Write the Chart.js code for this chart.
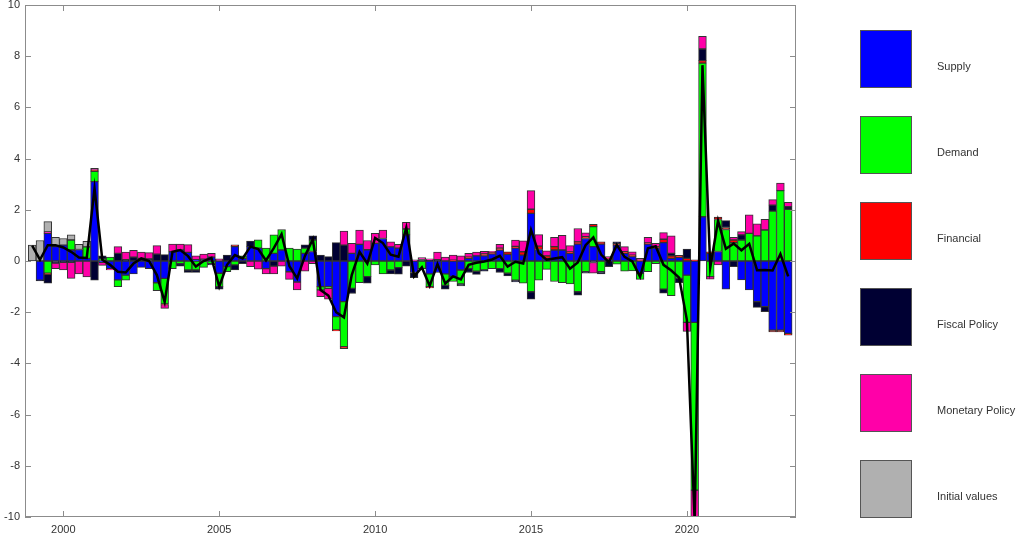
<!DOCTYPE html>
<html>
<head>
<meta charset="utf-8">
<script src="https://cdn.jsdelivr.net/npm/chart.js@4.4.1/dist/chart.umd.min.js"></script>
<style>
  body { margin: 0; background: #fff; }
  #wrap { width: 1017px; height: 537px; }
</style>
</head>
<body>
<div id="wrap"><canvas id="hd" width="1017" height="537"></canvas></div>
<script>
// quarters 1999Q1 .. 2023Q2
var startYear = 1999;
var nQuarters = 98;

// contributions
var supply = [0, -0.75, 1.08, 0.56, 0.62, 0.43, 0.45, 0.1, 3.1, -0.05,
  -0.3, -0.74, -0.55, -0.5, -0.25, -0.3, -0.85, -0.68, 0.36, 0.43,
  0.34, 0.05, 0, 0.15, -0.48, -0.22, 0.56, 0.1, 0.56, 0.5,
  -0.3, 0.3, 0.43, -0.42, -0.82, 0.3, 0.37, -1.0, -1.0, -2.17,
  -1.59, 0.3, 0.65, 0.44, 0.69, 0.88, 0.55, 0.5, 1.02, -0.45,
  0, -0.5, -0.45, -0.5, -0.6, -0.35, 0.1, 0.2, 0.2, 0.28,
  0.43, 0.26, 0.5, 0.23, 1.86, 0.45, 0.1, 0.43, 0.43, 0.3,
  0.66, 0.88, 0.56, 0.66, 0.05, 0.62, 0.3, 0.17, -0.48, 0.66,
  0.5, 0.72, 0.1, 0.14, -0.55, -2.4, 1.73, 0.3, 0.37, -1.1,
  0, -0.74, -1.13, -1.59, -1.78, -2.7, -2.7, -2.83];

var demand = [0, 0, -0.48, 0, 0, 0.39, 0, 0.45, 0.4, 0.08,
  0.15, -0.26, -0.2, 0, 0, 0, -0.31, -1.0, -0.3, -0.1,
  -0.35, -0.35, -0.25, -0.1, -0.52, -0.2, -0.15, 0.1, 0, 0.33,
  0.5, 0.72, 0.8, 0.5, 0.47, 0.2, 0.45, -0.13, -0.07, -0.52,
  -1.76, -1.07, -0.85, -0.61, -0.15, -0.5, -0.35, -0.26, 0.23, 0,
  -0.3, -0.5, 0, -0.45, -0.2, -0.55, -0.3, -0.4, -0.35, -0.3,
  -0.3, -0.48, -0.75, -0.87, -1.2, -0.75, -0.33, -0.8, -0.85, -0.9,
  -1.2, -0.42, 0.78, -0.42, 0, -0.12, -0.4, -0.39, -0.24, -0.42,
  -0.1, -1.1, -1.35, -0.68, -1.85, -6.55, 6.0, -0.61, 1.25, 1.23,
  0.72, 0.82, 1.08, 0.98, 1.21, 1.95, 2.75, 2.02];

var financial = [0, 0, -0.04, 0, 0, 0, 0, 0, 0.05, 0,
  0, 0, 0, 0, 0, 0, 0, -0.02, 0, 0,
  0, 0, 0, 0, 0, 0, 0.07, 0, 0, 0,
  0, 0, 0, 0, 0, 0, 0, 0, 0, -0.04,
  -0.07, 0, 0, 0, 0, 0, 0, 0, 0, 0,
  0, -0.05, 0, 0, 0.03, 0, 0.05, 0, 0.08, 0.05,
  0.07, 0.1, 0.07, 0.13, 0.16, 0.13, 0.1, 0.13, 0, 0.05,
  0.09, 0.07, 0.09, 0.09, 0.06, 0.07, 0.06, 0.06, 0.04, 0.05,
  0.06, 0.13, 0.1, 0.08, 0.1, 0.05, 0.1, 0.06, 0.1, 0.08,
  0.1, 0, 0, 0, 0, -0.07, -0.07, -0.07];

var fiscal = [0, -0.03, -0.35, -0.08, -0.05, -0.05, 0, 0, -0.75, 0.12,
  0, 0.3, 0.05, 0.15, 0.1, 0.08, 0.27, 0.25, 0, -0.1,
  -0.1, -0.1, 0.07, -0.05, -0.1, 0.23, -0.2, -0.1, 0.22, 0,
  0, -0.2, 0, 0, 0, 0.13, 0.16, 0.23, 0.17, 0.72,
  0.62, -0.2, 0, -0.26, 0, 0, -0.15, -0.25, -0.2, -0.2,
  0.06, 0.03, 0.05, -0.15, 0, -0.07, -0.15, -0.12, -0.05, 0,
  -0.15, -0.1, -0.07, 0, -0.29, 0, 0, 0, 0, 0,
  -0.13, -0.06, -0.06, -0.08, -0.22, 0.06, 0, 0, 0, 0,
  0, -0.16, 0.1, -0.17, 0.37, 0, 0.45, 0, 0, 0.27,
  -0.22, 0.2, 0, -0.22, -0.2, 0.23, 0, 0.1];

var monetary = [0, 0, 0.06, -0.22, -0.3, -0.63, -0.5, -0.62, 0.07, -0.12,
  -0.05, 0.26, 0.3, 0.27, 0.25, 0.25, 0.33, -0.15, 0.3, 0.23,
  0.3, 0.15, 0.2, 0.15, 0.08, 0, 0, 0, -0.22, -0.32,
  -0.2, -0.3, -0.2, -0.3, -0.31, -0.4, -0.1, -0.26, -0.42, 0,
  0.55, 0.39, 0.56, 0.36, 0.39, 0.33, 0.2, 0.15, 0.26, 0.05,
  0.07, 0.05, 0.3, 0.15, 0.2, 0.2, 0.15, 0.15, 0.1, 0.05,
  0.15, 0, 0.25, 0.43, 0.73, 0.45, 0.2, 0.36, 0.57, 0.25,
  0.52, 0.15, -0.42, 0, 0.06, 0, 0.2, 0.13, 0.06, 0.21,
  0.13, 0.26, 0.68, 0, -0.35, -1.3, 0.5, -0.1, -0.15, 0,
  0.1, 0.13, 0.72, 0.47, 0.42, 0.22, 0.29, 0.17];

var initial = [0.62, 0.8, 0.4, 0.36, 0.26, 0.2, 0.2, 0.22];

// the black line
var total = [0.6, 0.05, 0.62, 0.62, 0.53, 0.36, 0.14, 0.12, 2.84, 0.05,
  -0.15, -0.42, -0.45, -0.1, 0.1, 0, -0.55, -1.6, 0.36, 0.43,
  0.19, -0.22, 0, 0.12, -1.0, -0.15, 0.23, 0.1, 0.56, 0.47,
  0.02, 0.5, 1.05, -0.2, -0.68, 0.2, 0.85, -1.13, -1.35, -2.0,
  -2.2, -0.55, 0.36, -0.1, 0.9, 0.7, 0.25, 0.17, 1.3, -0.6,
  -0.25, -0.97, -0.12, -0.88, -0.6, -0.72, -0.15, -0.07, -0.02, 0.06,
  0.2, -0.22, -0.03, -0.1, 1.22, 0.3, 0.05, 0.1, 0.15, -0.3,
  -0.06, 0.62, 0.92, 0.25, -0.05, 0.63, 0.16, -0.02, -0.62, 0.5,
  0.58, -0.15, -0.37, -0.65, -2.3, -10.2, 7.65, -0.25, 1.57, 0.48,
  0.68, 0.42, 0.67, -0.36, -0.35, -0.37, 0.27, -0.6];

var yearTicks = [2000, 2005, 2010, 2015, 2020];
var seriesNames = ["Supply", "Demand", "Financial", "Fiscal Policy", "Monetary Policy", "Initial values"];
var seriesColors = ["#0000ff", "#00ff00", "#ff0000", "#000033", "#ff00a8", "#b0b0b0"];

function toPoints(vals) {
  var pts = [];
  for (var i = 0; i < nQuarters; i++) {
    pts.push({ x: startYear + i / 4, y: i < vals.length ? vals[i] : 0 });
  }
  return pts;
}

var allSeries = [supply, demand, financial, fiscal, monetary, initial];
var datasets = [];
for (var s = 0; s < allSeries.length; s++) {
  datasets.push({
    type: "bar",
    label: seriesNames[s],
    data: toPoints(allSeries[s]),
    backgroundColor: seriesColors[s],
    borderColor: "#333333",
    borderWidth: 1,
    borderSkipped: false,
    barPercentage: 1,
    categoryPercentage: 1,
    stack: "parts",
    order: 1,
  });
}
datasets.push({
  type: "line",
  label: "total",
  data: toPoints(total),
  borderColor: "#000000",
  borderWidth: 2.5,
  pointRadius: 0,
  tension: 0,
  stack: "line",
  order: 0,
});

// frame, inward ticks and the side legend
var framePlugin = {
  id: "frame",
  afterDatasetsDraw: function (chart) {
    var ctx = chart.ctx;
    var a = chart.chartArea;
    var xs = chart.scales.x;
    var ys = chart.scales.y;
    ctx.save();
    ctx.strokeStyle = "#8c8c8c";
    ctx.lineWidth = 1;
    ctx.strokeRect(a.left + 0.5, a.top + 0.5, a.right - a.left - 1, a.bottom - a.top - 1);
    ctx.beginPath();
    for (var i = 0; i < yearTicks.length; i++) {
      var px = Math.round(xs.getPixelForValue(yearTicks[i])) + 0.5;
      ctx.moveTo(px, a.bottom);
      ctx.lineTo(px, a.bottom - 6);
      ctx.moveTo(px, a.top);
      ctx.lineTo(px, a.top + 6);
    }
    for (var v = -10; v <= 10; v += 2) {
      var py = Math.round(ys.getPixelForValue(v)) + 0.5;
      ctx.moveTo(a.left, py);
      ctx.lineTo(a.left + 6, py);
      ctx.moveTo(a.right, py);
      ctx.lineTo(a.right - 6, py);
    }
    ctx.stroke();
    ctx.restore();
  },
  afterDraw: function (chart) {
    var ctx = chart.ctx;
    ctx.save();
    ctx.font = "11px 'Liberation Sans', Arial, sans-serif";
    ctx.textBaseline = "middle";
    for (var i = 0; i < seriesNames.length; i++) {
      var top = 30 + i * 86;
      ctx.fillStyle = seriesColors[i];
      ctx.fillRect(860, top, 52, 58);
      ctx.strokeStyle = "#555555";
      ctx.lineWidth = 1;
      ctx.strokeRect(860.5, top + 0.5, 51, 57);
      ctx.fillStyle = "#333333";
      ctx.fillText(seriesNames[i], 937, top + 37);
    }
    ctx.restore();
  },
};

function noPad(scale) {
  scale.paddingTop = 0;
  scale.paddingBottom = 0;
  scale.paddingLeft = 0;
  scale.paddingRight = 0;
}

new Chart(document.getElementById("hd").getContext("2d"), {
  type: "bar",
  data: { datasets: datasets },
  plugins: [framePlugin],
  options: {
    responsive: false,
    animation: false,
    layout: { padding: { left: 0, right: 221, top: 5, bottom: 0 } },
    plugins: { legend: { display: false }, tooltip: { enabled: false } },
    scales: {
      x: {
        type: "linear",
        stacked: true,
        offset: false,
        min: 1998.77,
        max: 2023.5,
        grid: { display: false, drawTicks: false, tickLength: 0 },
        border: { display: false },
        afterBuildTicks: function (scale) {
          scale.ticks = yearTicks.map(function (y) { return { value: y }; });
        },
        afterFit: function (scale) { scale.height = 20; noPad(scale); },
        ticks: {
          color: "#333333",
          padding: 6,
          maxRotation: 0,
          font: { size: 11, family: "'Liberation Sans', Arial, sans-serif" },
          callback: function (v) { return String(v); },
        },
      },
      y: {
        stacked: true,
        min: -10,
        max: 10,
        grid: { display: false, drawTicks: false, tickLength: 0 },
        border: { display: false },
        afterFit: function (scale) { scale.width = 25; noPad(scale); },
        ticks: {
          stepSize: 2,
          color: "#333333",
          padding: 5,
          font: { size: 11, family: "'Liberation Sans', Arial, sans-serif" },
        },
      },
    },
  },
});
</script>
</body>
</html>
